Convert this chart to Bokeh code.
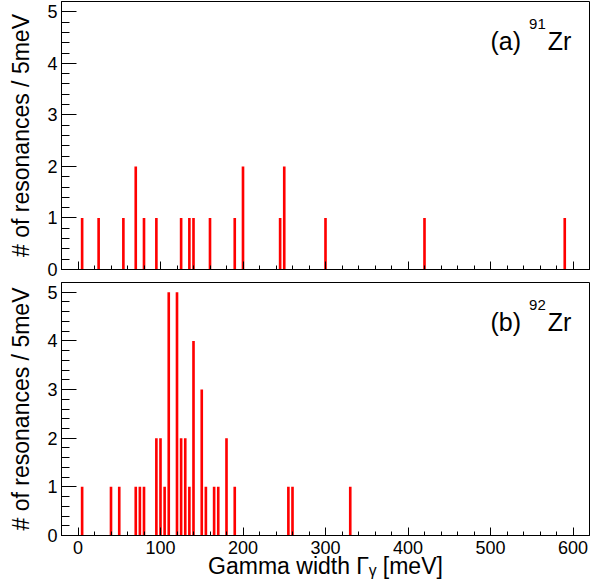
from bokeh.plotting import figure
from bokeh.layouts import column
from bokeh.models import SingleIntervalTicker, Label, ColumnDataSource
from bokeh.embed import file_html
from bokeh.resources import INLINE

# Data: gamma widths (meV, 5 meV bins) and number of resonances per bin
zr91_width = [5, 25, 55, 70, 80, 95, 125, 135, 140, 160, 190, 200, 245, 250, 300, 420, 590]
zr91_count = [1, 1, 1, 2, 1, 1, 1, 1, 1, 1, 1, 2, 1, 2, 1, 1, 1]

zr92_width = [5, 40, 50, 70, 75, 80, 95, 100, 105, 110, 120, 125, 130, 135, 140,
              150, 155, 165, 170, 180, 190, 255, 260, 330]
zr92_count = [1, 1, 1, 1, 1, 1, 2, 2, 1, 5, 5, 2, 2, 1, 4, 3, 1, 1, 1, 2, 1, 1, 1, 1]

x_ticks_interval = 100
y_label = "# of resonances / 5meV"
x_label = "Gamma width \u0393\u1d67 [meV]"
FONT = "Liberation Sans"


def make_panel(widths, counts, height, top_border, bottom_border, show_xlabels,
               tag, mass, ybase, ysup):
    p = figure(width=600, height=height, x_range=(-20, 620), y_range=(0, 5.2),
               output_backend="svg", toolbar_location=None,
               min_border_left=61, min_border_right=11,
               min_border_top=top_border, min_border_bottom=bottom_border)
    p.background_fill_color = "white"
    p.border_fill_color = "white"
    p.outline_line_color = "black"
    p.outline_line_width = 1
    p.xgrid.visible = False
    p.ygrid.visible = False

    src = ColumnDataSource(dict(x=widths, top=counts))
    p.vbar(x="x", top="top", bottom=0, width=3.2, source=src,
           fill_color="#ff0000", line_color=None)

    p.xaxis.ticker = SingleIntervalTicker(interval=x_ticks_interval, num_minor_ticks=5)
    p.yaxis.ticker = SingleIntervalTicker(interval=1, num_minor_ticks=5)

    for ax in (p.xaxis[0], p.yaxis[0]):
        ax.axis_line_color = "black"
        ax.axis_line_width = 1
        ax.major_tick_line_color = "black"
        ax.minor_tick_line_color = "black"
        ax.major_tick_out = 0
        ax.minor_tick_out = 0
        ax.major_label_text_font = FONT
        ax.major_label_text_font_size = "18px"
        ax.major_label_text_color = "black"
        ax.axis_label_text_font = FONT
        ax.axis_label_text_font_style = "normal"
        ax.axis_label_text_font_size = "23px"
        ax.axis_label_text_color = "black"

    p.xaxis.major_tick_in = 8
    p.xaxis.minor_tick_in = 4
    p.yaxis.major_tick_in = 15
    p.yaxis.minor_tick_in = 8
    p.yaxis.major_label_standoff = 4
    p.yaxis.axis_label = y_label
    p.yaxis.axis_label_standoff = 10

    if show_xlabels:
        p.xaxis.major_label_standoff = 5
        p.xaxis.axis_label = x_label
        p.xaxis.axis_label_standoff = -4
    else:
        p.xaxis.major_label_overrides = {v: "" for v in range(0, 700, 100)}
        p.xaxis.major_label_text_font_size = "0px"
        p.xaxis.major_label_standoff = 0

    common = dict(text_font=FONT, text_color="black", text_align="right",
                  text_baseline="alphabetic")
    p.add_layout(Label(x=537, y=ybase, text=tag, text_font_size="25px", **common))
    p.add_layout(Label(x=567, y=ysup, text=mass, text_font_size="15px", **common))
    p.add_layout(Label(x=598, y=ybase, text="Zr", text_font_size="25px", **common))
    return p


# top panel: frame 268 px tall; bottom panel: frame 253 px tall
p1 = make_panel(zr91_width, zr91_count, 281, 1, 12, False, "(a)", "91", 4.44, 4.76)
p2 = make_panel(zr92_width, zr92_count, 302, 1, 48, True, "(b)", "92", 4.39, 4.73)

p = column(p1, p2)
open("out.html", "w").write(file_html(p, INLINE))
